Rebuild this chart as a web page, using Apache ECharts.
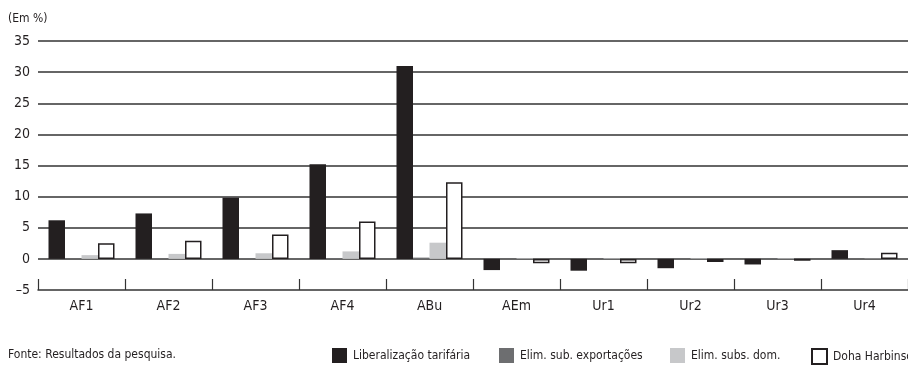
<!DOCTYPE html>
<html>
<head>
<meta charset="utf-8">
<script src="https://cdn.jsdelivr.net/npm/echarts@6/dist/echarts.min.js"></script>
<style>
  html, body { margin: 0; padding: 0; background: #fff; }
  #chart { width: 908px; height: 367px; }
</style>
</head>
<body>
<div id="chart"></div>
<script>
// Regiões / cenários
const categories = ['AF1', 'AF2', 'AF3', 'AF4', 'ABu', 'AEm', 'Ur1', 'Ur2', 'Ur3', 'Ur4'];

// Variação (em %) por componente da simulação
const liberalizacao = [6.2, 7.3, 9.8, 15.2, 31.0, -1.8, -1.9, -1.5, -0.9, 1.4];
const subExportacoes = [0.05, 0.05, 0.05, 0.1, 0.2, 0.05, 0.05, 0.05, 0.1, 0.05];
const subsDomesticos = [0.6, 0.8, 0.9, 1.2, 2.6, 0.1, 0.1, 0.1, 0.1, 0.05];
const dohaHarbinson = [2.5, 2.9, 3.9, 6.0, 12.3, -0.7, -0.7, -0.5, -0.3, 1.0];

const seriesNames = ['Liberalização tarifária', 'Elim. sub. exportações', 'Elim. subs. dom.', 'Doha Harbinson'];

const FONT = '"DejaVu Sans Condensed", "Liberation Sans Narrow", "Open Sans", sans-serif';
const INK = '#231f20';

const chart = echarts.init(document.getElementById('chart'), null, { renderer: 'canvas' });

function legendAt(name, left) {
  return {
    data: [name],
    left: left,
    top: 348,
    padding: 0,
    icon: 'rect',
    itemWidth: 15,
    itemHeight: 15,
    itemGap: 0,
    selectedMode: false,
    textStyle: { fontFamily: FONT, fontSize: 12, color: INK, padding: [0, 0, 0, 1] }
  };
}

const option = {
  animation: false,
  backgroundColor: '#fff',
  grid: { left: 38, right: -5, top: 41, bottom: 77, containLabel: false },
  legend: [
    legendAt(seriesNames[0], 332),
    legendAt(seriesNames[1], 499),
    legendAt(seriesNames[2], 670),
    legendAt(seriesNames[3], 811)
  ],
  graphic: [
    { type: 'text', left: 8, top: 13, style: { text: '(Em %)', font: '12px ' + FONT, fill: INK } },
    { type: 'text', left: 8, top: 349, style: { text: 'Fonte: Resultados da pesquisa.', font: '12px ' + FONT, fill: INK } }
  ],
  xAxis: {
    type: 'category',
    data: categories,
    boundaryGap: true,
    axisLine: { onZero: false, lineStyle: { color: '#333', width: 1.5 } },
    axisTick: { show: true, inside: true, length: 11, alignWithLabel: false, lineStyle: { color: '#333', width: 1.2 } },
    axisLabel: { fontFamily: FONT, fontSize: 14, color: INK, margin: 9 },
    splitLine: { show: false }
  },
  yAxis: {
    type: 'value',
    min: -5,
    max: 35,
    interval: 5,
    axisLine: { show: false },
    axisTick: { show: false },
    axisLabel: {
      fontFamily: FONT, fontSize: 14, color: INK, margin: 8,
      formatter: v => (v < 0 ? '\u2013' + Math.abs(v) : String(v))
    },
    splitLine: {
      lineStyle: { color: '#333', width: 1.5 },
      showMinLine: false
    }
  },
  series: [
    {
      name: seriesNames[0], type: 'bar', data: liberalizacao,
      barWidth: 16.5, barGap: '0%',
      itemStyle: { color: INK }
    },
    {
      name: seriesNames[1], type: 'bar', data: subExportacoes,
      barWidth: 16.5, barGap: '0%',
      itemStyle: { color: '#6d6e70' }
    },
    {
      name: seriesNames[2], type: 'bar', data: subsDomesticos,
      barWidth: 16.5, barGap: '0%',
      itemStyle: { color: '#c7c8ca' }
    },
    {
      name: seriesNames[3], type: 'bar', data: dohaHarbinson,
      barWidth: 16.5, barGap: '0%',
      itemStyle: { color: '#ffffff', borderColor: INK, borderWidth: 1.5 }
    }
  ]
};

chart.setOption(option);
</script>
</body>
</html>
